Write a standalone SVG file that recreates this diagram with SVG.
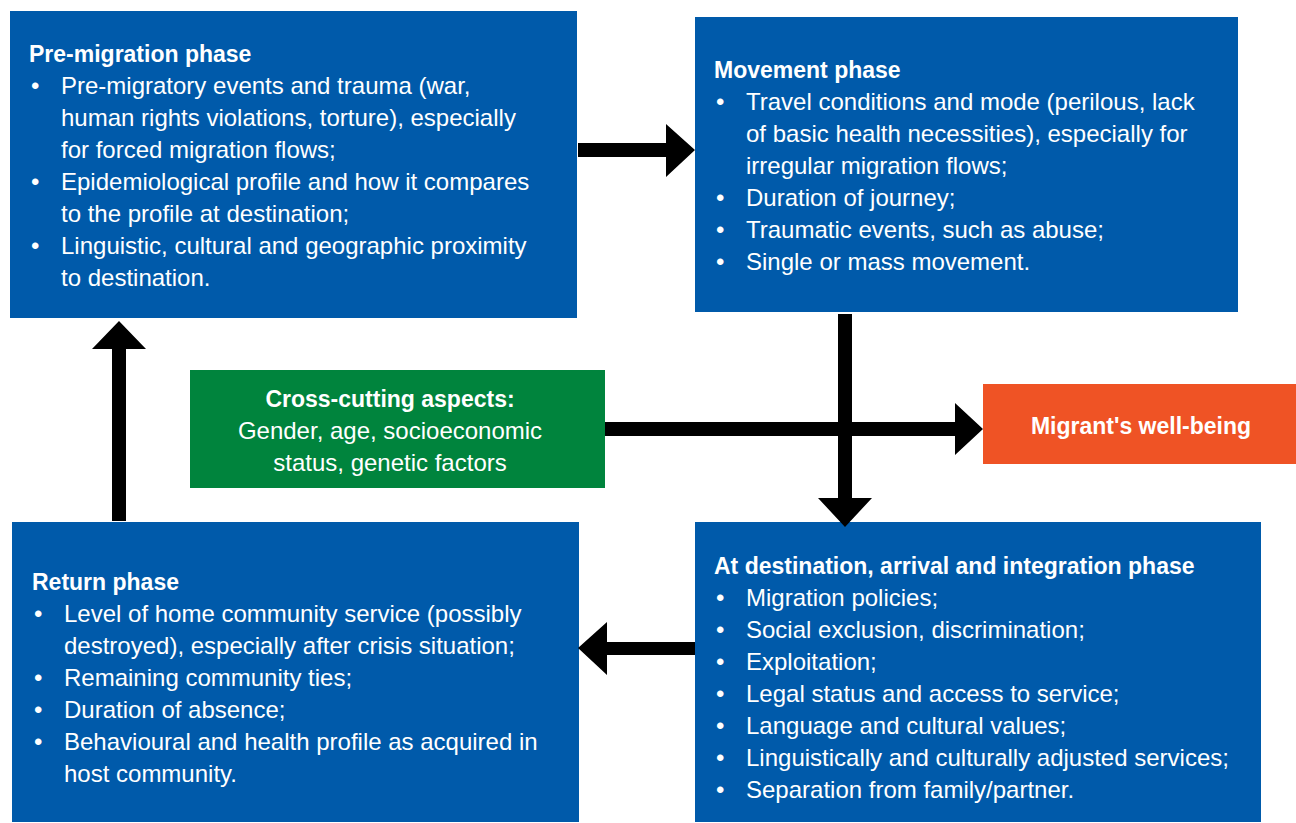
<svg xmlns="http://www.w3.org/2000/svg" width="1296" height="823" viewBox="0 0 1296 823">
<style>
.box{fill:#005AAA}
.t{font-family:"Liberation Sans",Arial,sans-serif;font-size:24px;fill:#fff}
.b{font-weight:bold;font-size:23px}
.c{text-anchor:middle}
.arr{fill:#000}
</style>
<rect width="1296" height="823" fill="#fff"/>
<g id="pre-migration">
<rect class="box" x="10" y="11" width="567" height="307"/>
<text class="t b" x="29" y="62">Pre-migration phase</text>
<text class="t" x="31" y="94">•</text><text class="t" x="61" y="94">Pre-migratory events and trauma (war,</text>
<text class="t" x="61" y="126">human rights violations, torture), especially</text>
<text class="t" x="61" y="158">for forced migration flows;</text>
<text class="t" x="31" y="190">•</text><text class="t" x="61" y="190">Epidemiological profile and how it compares</text>
<text class="t" x="61" y="222">to the profile at destination;</text>
<text class="t" x="31" y="254">•</text><text class="t" x="61" y="254">Linguistic, cultural and geographic proximity</text>
<text class="t" x="61" y="286">to destination.</text>
</g>
<g id="movement">
<rect class="box" x="695" y="17" width="543" height="295"/>
<text class="t b" x="714" y="78">Movement phase</text>
<text class="t" x="716" y="110">•</text><text class="t" x="746" y="110">Travel conditions and mode (perilous, lack</text>
<text class="t" x="746" y="142">of basic health necessities), especially for</text>
<text class="t" x="746" y="174">irregular migration flows;</text>
<text class="t" x="716" y="206">•</text><text class="t" x="746" y="206">Duration of journey;</text>
<text class="t" x="716" y="238">•</text><text class="t" x="746" y="238">Traumatic events, such as abuse;</text>
<text class="t" x="716" y="270">•</text><text class="t" x="746" y="270">Single or mass movement.</text>
</g>
<g id="cross-cutting">
<rect x="190" y="370" width="415" height="118" fill="#00843D"/>
<text class="t b c" x="390" y="407">Cross-cutting aspects:</text>
<text class="t c" x="390" y="439">Gender, age, socioeconomic</text>
<text class="t c" x="390" y="471">status, genetic factors</text>
</g>
<g id="well-being">
<rect x="983" y="384" width="313" height="80" fill="#EF5325"/>
<text class="t b c" x="1141" y="434">Migrant's well-being</text>
</g>
<g id="return">
<rect class="box" x="12" y="522" width="567" height="300"/>
<text class="t b" x="32" y="590">Return phase</text>
<text class="t" x="34" y="622">•</text><text class="t" x="64" y="622">Level of home community service (possibly</text>
<text class="t" x="64" y="654">destroyed), especially after crisis situation;</text>
<text class="t" x="34" y="686">•</text><text class="t" x="64" y="686">Remaining community ties;</text>
<text class="t" x="34" y="718">•</text><text class="t" x="64" y="718">Duration of absence;</text>
<text class="t" x="34" y="750">•</text><text class="t" x="64" y="750">Behavioural and health profile as acquired in</text>
<text class="t" x="64" y="782">host community.</text>
</g>
<g id="destination">
<rect class="box" x="695" y="522" width="566" height="300"/>
<text class="t b" x="714" y="574">At destination, arrival and integration phase</text>
<text class="t" x="716" y="606">•</text><text class="t" x="746" y="606">Migration policies;</text>
<text class="t" x="716" y="638">•</text><text class="t" x="746" y="638">Social exclusion, discrimination;</text>
<text class="t" x="716" y="670">•</text><text class="t" x="746" y="670">Exploitation;</text>
<text class="t" x="716" y="702">•</text><text class="t" x="746" y="702">Legal status and access to service;</text>
<text class="t" x="716" y="734">•</text><text class="t" x="746" y="734">Language and cultural values;</text>
<text class="t" x="716" y="766">•</text><text class="t" x="746" y="766">Linguistically and culturally adjusted services;</text>
<text class="t" x="716" y="798">•</text><text class="t" x="746" y="798">Separation from family/partner.</text>
</g>
<g id="connectors">
<polygon class="arr" points="578,143 666,143 666,124 695,150 666,177 666,157 578,157"/>
<polygon class="arr" points="838,314 852,314 852,498 872,498 845,527 818,498 838,498"/>
<polygon class="arr" points="605,422 955,422 955,403 983,429 955,455 955,436 605,436"/>
<polygon class="arr" points="695,642 607,642 607,622 578,648 607,675 607,655 695,655"/>
<polygon class="arr" points="112,521 112,349 92,349 119,321 146,349 126,349 126,521"/>
</g>
</svg>
